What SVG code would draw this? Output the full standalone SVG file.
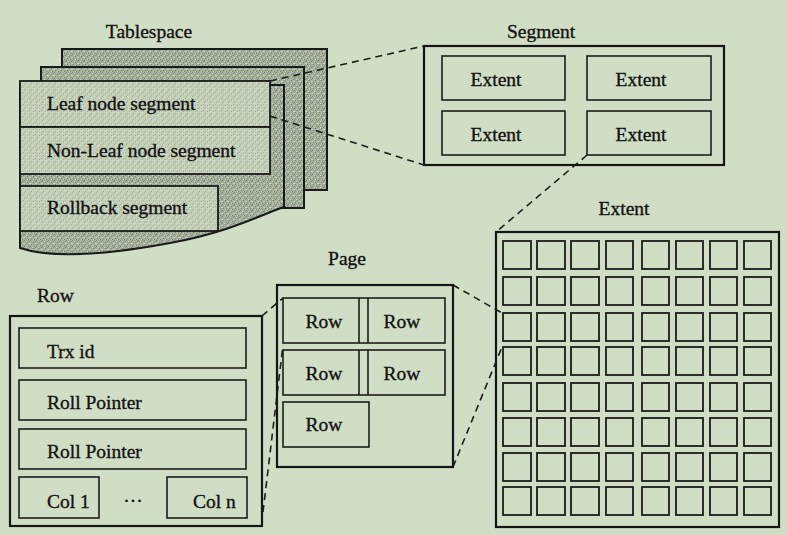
<svg xmlns="http://www.w3.org/2000/svg" width="787" height="535" viewBox="0 0 787 535">
<defs>
<pattern id="tex" width="6" height="6" patternUnits="userSpaceOnUse"><rect width="6" height="6" fill="#a3af9b"/><path d="M0 0h1v1H0zM3 2h1v1H3zM1 4h1v1H1zM4 5h1v1H4zM5 1h1v1H5z" fill="#7a8574"/><path d="M2 1h1v1H2zM5 3h1v1H5zM0 3h1v1H0zM3 5h1v1H3z" fill="#c6d0be"/></pattern>
<pattern id="tex2" width="6" height="6" patternUnits="userSpaceOnUse"><rect width="6" height="6" fill="#c3cfb9"/><path d="M0 0h1v1H0zM3 3h1v1H3zM1 5h1v1H1zM5 2h1v1H5z" fill="#a2ad9a"/><path d="M2 1h1v1H2zM4 4h1v1H4z" fill="#dbe4d3"/></pattern>
<style>
text{font-family:"Liberation Serif","Times New Roman",serif;font-size:19.5px;fill:#121212;stroke:#121212;stroke-width:0.35}
.c{text-anchor:middle}
.sheet{fill:url(#tex);stroke:#1a1a1a;stroke-width:2}
.lbox{fill:url(#tex2);stroke:#1a1a1a;stroke-width:1.8}
.box{fill:none;stroke:#161616;stroke-width:2.2}
.ibox{fill:none;stroke:#1c1c1c;stroke-width:1.6}
.cell{fill:none;stroke:#1c1c1c;stroke-width:1.8}
.dash{fill:none;stroke:#1c1c1c;stroke-width:1.6;stroke-dasharray:7 5}
</style>
</defs>
<rect width="787" height="535" fill="#cfdec5"/>

<g id="tablespace">
<text class="c" x="149" y="38">Tablespace</text>
<rect class="sheet" x="62" y="49" width="265" height="141"/>
<rect class="sheet" x="41" y="67" width="263" height="141"/>
<path class="sheet" d="M20,85 H284 V207 C260,215 230,232 170,243 C100,256 50,258 20,248 Z"/>
<rect class="lbox" x="20" y="81" width="250" height="46"/>
<rect class="lbox" x="20" y="127" width="250" height="47"/>
<rect class="lbox" x="20" y="186" width="198" height="45"/>
<text x="47" y="110">Leaf node segment</text>
<text x="47" y="157">Non-Leaf node segment</text>
<text x="47" y="214">Rollback segment</text>
</g>

<g id="segment">
<text class="c" x="541" y="38">Segment</text>
<rect class="box" x="424" y="46" width="300" height="119"/>
<rect class="ibox" x="442" y="56" width="123" height="44"/>
<rect class="ibox" x="587" y="56" width="124" height="44"/>
<rect class="ibox" x="442" y="111" width="123" height="44"/>
<rect class="ibox" x="587" y="111" width="124" height="44"/>
<text class="c" x="496" y="86">Extent</text>
<text class="c" x="641" y="86">Extent</text>
<text class="c" x="496" y="141">Extent</text>
<text class="c" x="641" y="141">Extent</text>
</g>

<g id="extent">
<text class="c" x="624" y="215">Extent</text>
<rect class="box" x="496" y="232" width="283" height="295"/>
<g id="cells">
<g transform="translate(0,241)"><rect class="cell" x="503" width="28" height="28"/><rect class="cell" x="537" width="28" height="28"/><rect class="cell" x="571" width="28" height="28"/><rect class="cell" x="606" width="27" height="28"/><rect class="cell" x="642" width="27" height="28"/><rect class="cell" x="676" width="27" height="28"/><rect class="cell" x="710" width="27" height="28"/><rect class="cell" x="744" width="27" height="28"/></g>
<g transform="translate(0,277)"><rect class="cell" x="503" width="28" height="28"/><rect class="cell" x="537" width="28" height="28"/><rect class="cell" x="571" width="28" height="28"/><rect class="cell" x="606" width="27" height="28"/><rect class="cell" x="642" width="27" height="28"/><rect class="cell" x="676" width="27" height="28"/><rect class="cell" x="710" width="27" height="28"/><rect class="cell" x="744" width="27" height="28"/></g>
<g transform="translate(0,313)"><rect class="cell" x="503" width="28" height="28"/><rect class="cell" x="537" width="28" height="28"/><rect class="cell" x="571" width="28" height="28"/><rect class="cell" x="606" width="27" height="28"/><rect class="cell" x="642" width="27" height="28"/><rect class="cell" x="676" width="27" height="28"/><rect class="cell" x="710" width="27" height="28"/><rect class="cell" x="744" width="27" height="28"/></g>
<g transform="translate(0,347)"><rect class="cell" x="503" width="28" height="28"/><rect class="cell" x="537" width="28" height="28"/><rect class="cell" x="571" width="28" height="28"/><rect class="cell" x="606" width="27" height="28"/><rect class="cell" x="642" width="27" height="28"/><rect class="cell" x="676" width="27" height="28"/><rect class="cell" x="710" width="27" height="28"/><rect class="cell" x="744" width="27" height="28"/></g>
<g transform="translate(0,383)"><rect class="cell" x="503" width="28" height="28"/><rect class="cell" x="537" width="28" height="28"/><rect class="cell" x="571" width="28" height="28"/><rect class="cell" x="606" width="27" height="28"/><rect class="cell" x="642" width="27" height="28"/><rect class="cell" x="676" width="27" height="28"/><rect class="cell" x="710" width="27" height="28"/><rect class="cell" x="744" width="27" height="28"/></g>
<g transform="translate(0,418)"><rect class="cell" x="503" width="28" height="28"/><rect class="cell" x="537" width="28" height="28"/><rect class="cell" x="571" width="28" height="28"/><rect class="cell" x="606" width="27" height="28"/><rect class="cell" x="642" width="27" height="28"/><rect class="cell" x="676" width="27" height="28"/><rect class="cell" x="710" width="27" height="28"/><rect class="cell" x="744" width="27" height="28"/></g>
<g transform="translate(0,453)"><rect class="cell" x="503" width="28" height="28"/><rect class="cell" x="537" width="28" height="28"/><rect class="cell" x="571" width="28" height="28"/><rect class="cell" x="606" width="27" height="28"/><rect class="cell" x="642" width="27" height="28"/><rect class="cell" x="676" width="27" height="28"/><rect class="cell" x="710" width="27" height="28"/><rect class="cell" x="744" width="27" height="28"/></g>
<g transform="translate(0,487)"><rect class="cell" x="503" width="28" height="28"/><rect class="cell" x="537" width="28" height="28"/><rect class="cell" x="571" width="28" height="28"/><rect class="cell" x="606" width="27" height="28"/><rect class="cell" x="642" width="27" height="28"/><rect class="cell" x="676" width="27" height="28"/><rect class="cell" x="710" width="27" height="28"/><rect class="cell" x="744" width="27" height="28"/></g>
</g>
</g>

<g id="page">
<text class="c" x="347" y="265">Page</text>
<rect class="box" x="277" y="285" width="176" height="182"/>
<rect class="ibox" x="283" y="298" width="162" height="45"/>
<path class="ibox" d="M359,298 V343 M368,298 V343"/>
<rect class="ibox" x="283" y="350" width="162" height="45"/>
<path class="ibox" d="M359,350 V395 M368,350 V395"/>
<rect class="ibox" x="283" y="402" width="86" height="45"/>
<text class="c" x="324" y="328">Row</text>
<text class="c" x="402" y="328">Row</text>
<text class="c" x="324" y="380">Row</text>
<text class="c" x="402" y="380">Row</text>
<text class="c" x="324" y="431">Row</text>
</g>

<g id="row">
<text x="37" y="302">Row</text>
<rect class="box" x="10" y="316" width="252" height="210"/>
<rect class="ibox" x="19" y="328" width="227" height="40"/>
<rect class="ibox" x="19" y="380" width="227" height="40"/>
<rect class="ibox" x="19" y="429" width="227" height="40"/>
<rect class="ibox" x="19" y="477" width="80" height="41"/>
<rect class="ibox" x="167" y="477" width="80" height="41"/>
<text x="47" y="358">Trx id</text>
<text x="47" y="409">Roll Pointer</text>
<text x="47" y="458">Roll Pointer</text>
<text x="47" y="508">Col 1</text>
<text class="c" x="133" y="507">···</text>
<text x="193" y="508">Col n</text>
</g>

<g id="connectors">
<line class="dash" x1="270" y1="81" x2="424" y2="46"/>
<line class="dash" x1="270" y1="116" x2="424" y2="165"/>
<line class="dash" x1="587" y1="155" x2="496" y2="232"/>
<line class="dash" x1="453" y1="285" x2="502" y2="313"/>
<line class="dash" x1="453" y1="467" x2="502" y2="347"/>
<line class="dash" x1="262" y1="316" x2="283" y2="298"/>
<line class="dash" x1="263" y1="512" x2="283" y2="345"/>
</g>
</svg>
